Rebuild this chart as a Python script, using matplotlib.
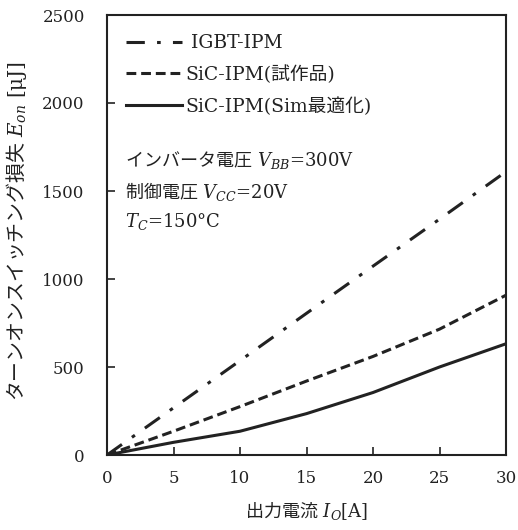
import matplotlib
matplotlib.use("Agg")
import matplotlib.pyplot as plt
import numpy as np

plt.rcParams['font.family'] = ['DejaVu Serif', 'Noto Sans CJK JP']
plt.rcParams['mathtext.fontset'] = 'custom'
plt.rcParams['mathtext.rm'] = 'Noto Sans CJK JP'
plt.rcParams['mathtext.it'] = 'DejaVu Serif:italic'
plt.rcParams['mathtext.bf'] = 'DejaVu Serif:bold'
plt.rcParams['axes.unicode_minus'] = False

current = [0, 5, 10, 15, 20, 25, 30]
igbt = [0, 268, 536, 805, 1073, 1340, 1610]
sic_proto = [0, 135, 275, 420, 560, 715, 908]
sic_sim = [0, 72, 135, 235, 355, 500, 632]

labels = [' IGBT-IPM', 'SiC-IPM(試作品)', 'SiC-IPM(Sim最適化)']
xticks = [0, 5, 10, 15, 20, 25, 30]
yticks = [0, 500, 1000, 1500, 2000, 2500]

fig = plt.figure(figsize=(5.18, 5.30), dpi=100)
ax = fig.add_axes([107/518, 75/530, 399/518, 440/530])

c = '#222222'
ax.plot(current, igbt, color=c, lw=2.2, dashes=(6, 4, 1.2, 4), label=labels[0])
ax.plot(current, sic_proto, color=c, lw=2.2, dashes=(3.2, 1.6), label=labels[1])
ax.plot(current, sic_sim, color=c, lw=2.2, label=labels[2])

ax.set_xlim(0, 30)
ax.set_ylim(0, 2500)
ax.set_xticks(xticks)
ax.set_yticks(yticks)
ax.tick_params(direction='in', length=6, width=1.2, labelsize=12, colors=c)
ax.tick_params(axis='y', pad=16)
ax.tick_params(axis='x', pad=11)
for s in ax.spines.values():
    s.set_linewidth(1.5)
    s.set_color(c)

ax.set_xlabel(r'$\mathrm{出力電流}$ $I_O$[A]', fontsize=13, color=c, labelpad=9)
ax.set_ylabel(r'$\mathrm{ターンオンスイッチング損失}$ $E_{on}$ [μJ]', fontsize=14.3,
              color=c)
ax.yaxis.set_label_coords(-0.196, 0.51)

leg = ax.legend(loc='upper left', bbox_to_anchor=(0.005, 0.995), frameon=False,
                fontsize=13.5, handlelength=3.0, handletextpad=0.15, labelspacing=0.7)
for t in leg.get_texts():
    t.set_color(c)

ax.text(0.045, 0.670, r'$\mathrm{インバータ電圧}$ $V_{BB}$=300V', transform=ax.transAxes,
        fontsize=13, color=c, va='center')
ax.text(0.045, 0.598, r'$\mathrm{制御電圧}$ $V_{CC}$=20V', transform=ax.transAxes,
        fontsize=13, color=c, va='center')
ax.text(0.045, 0.530, '$T_C$=150°C', transform=ax.transAxes,
        fontsize=13, color=c, va='center')

fig.savefig('out.png', dpi=100)
